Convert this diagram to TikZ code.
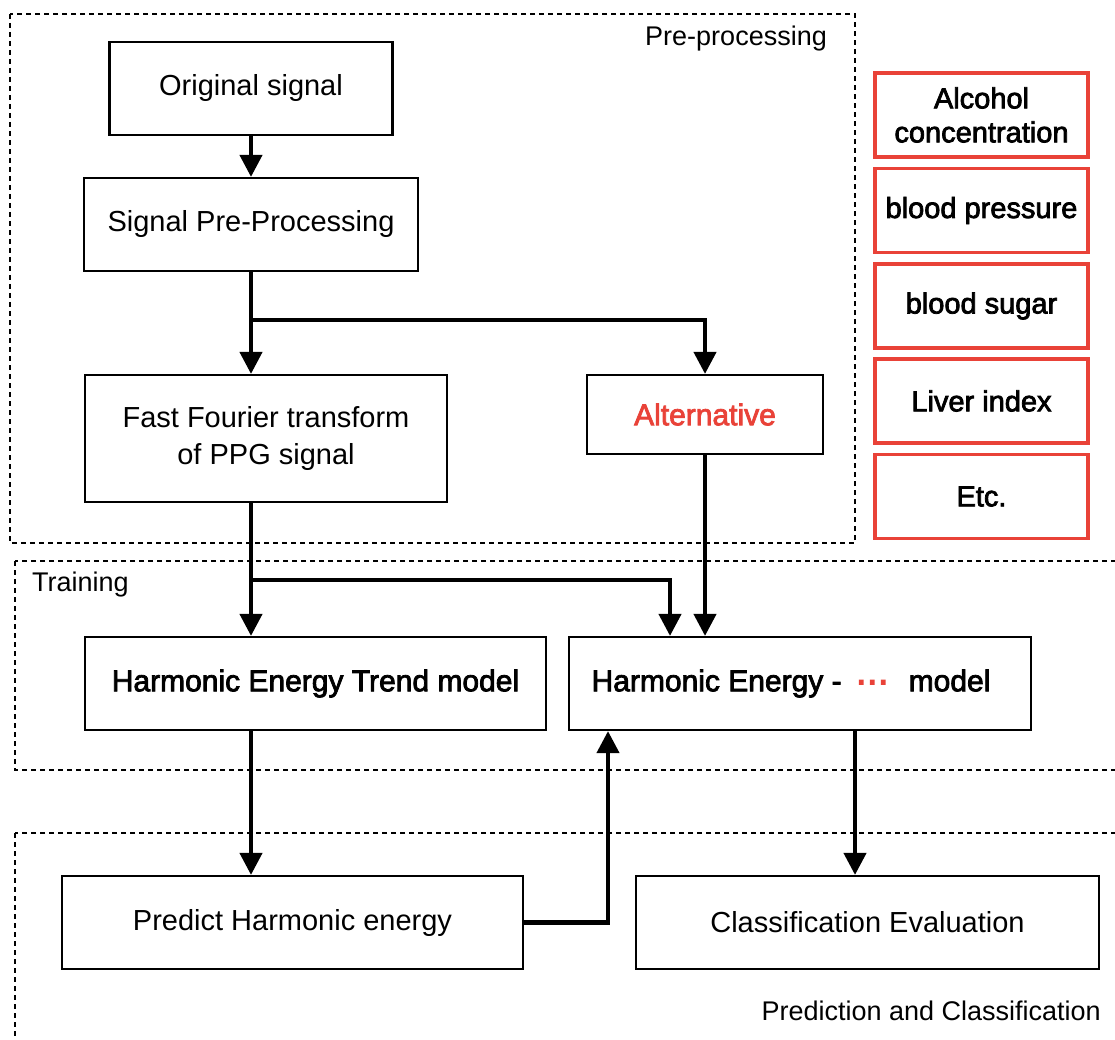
\documentclass[tikz,border=0pt]{standalone}
\usepackage{fontspec}
\setmainfont{Liberation Sans}
\newfontfamily\medfont[FakeBold=2.6]{Liberation Sans}
\newfontfamily\dotfont[FakeBold=5]{Liberation Sans}
\usetikzlibrary{arrows.meta}
\definecolor{alertred}{RGB}{233,66,56}
\begin{document}
\begin{tikzpicture}[x=1pt,y=-1pt,
  box/.style={draw=black, line width=2.2pt, rectangle, inner sep=0pt, align=center,
    font=\fontsize{29}{36}\selectfont},
  medium/.style={font=\medfont\fontsize{30}{36}\selectfont},
  redbox/.style={draw=alertred, line width=3.2pt, rectangle, inner sep=0pt, align=center,
    minimum width=213pt, minimum height=84pt, font=\medfont\fontsize{29}{34}\selectfont},
  flow/.style={line width=4.2pt, -{Triangle[width=22pt,length=22pt]}},
  region/.style={draw=black, line width=2pt, dash pattern=on 5pt off 4pt},
  tag/.style={font=\fontsize{27}{32}\selectfont, inner sep=0pt}
]
% canvas
\clip (0,0) rectangle (1115,1040);
\fill[white] (0,0) rectangle (1115,1040);

% stage frames
\draw[region] (10,14) rectangle (855,543);
\draw[region] (15,561) rectangle (1135,770);
\draw[region] (15,833) rectangle (1135,1060);

\node[tag, anchor=base east] (prelabel) at (827,46) {Pre-processing};
\node[tag, anchor=base west] (trainlabel) at (32,591) {Training};
\node[tag, anchor=base east] (predlabel) at (1101,1020) {Prediction and Classification};

% processing steps
\node[box, minimum width=283pt, minimum height=93pt] (orig) at (251,88.5) {Original signal};
\node[box, minimum width=334pt, minimum height=93pt] (spp) at (251,224.5) {Signal Pre-Processing};
\node[box, minimum width=362pt, minimum height=127pt] (fft) at (266,438.5) {Fast Fourier transform\\of PPG signal};
\node[box, medium, text=alertred, minimum width=236pt, minimum height=79pt] (alt) at (705,414.5) {Alternative};
\node[box, medium, minimum width=461pt, minimum height=93pt] (het) at (315.5,683.5) {Harmonic Energy Trend model};
\node[box, medium, minimum width=462pt, minimum height=93pt] (hem) at (800,683.5)
  {Harmonic Energy -\hspace{14pt}{\dotfont\fontsize{33}{36}\selectfont\color{alertred}···}\hspace{20pt}model\hspace{18pt}};
\node[box, minimum width=461pt, minimum height=93pt] (pred) at (292.5,922.5) {Predict Harmonic energy};
\node[box, minimum width=463pt, minimum height=93pt] (cls) at (867.5,922.5) {Classification Evaluation};

% target indicators
\node[redbox] (alc) at (981.5,115) {Alcohol\\concentration};
\node[redbox] (bp) at (981.5,210.5) {blood pressure};
\node[redbox] (bs) at (981.5,306) {blood sugar};
\node[redbox] (li) at (981.5,401) {Liver index};
\node[redbox] (etc) at (981.5,496.5) {Etc.};

% connectors
\coordinate (s1) at (251,320);
\coordinate (s2) at (251,580);
\draw[flow] (orig.south) -- (spp.north);
\draw[flow] (spp.south) -- (spp.south |- fft.north);
\draw[flow] (s1) -| (alt.north);
\draw[flow] (fft.south -| spp.south) -- (spp.south |- het.north);
\draw[flow] (s2) -| ([xshift=-130pt]hem.north);
\draw[flow] (alt.south) -- (alt.south |- hem.north);
\draw[flow] (het.south -| spp.south) -- (spp.south |- pred.north);
\draw[flow] ([xshift=55pt]hem.south) -- ([xshift=55pt]hem.south |- cls.north);
\draw[flow] (pred.east) -| ([xshift=-192pt]hem.south);
\end{tikzpicture}
\end{document}
